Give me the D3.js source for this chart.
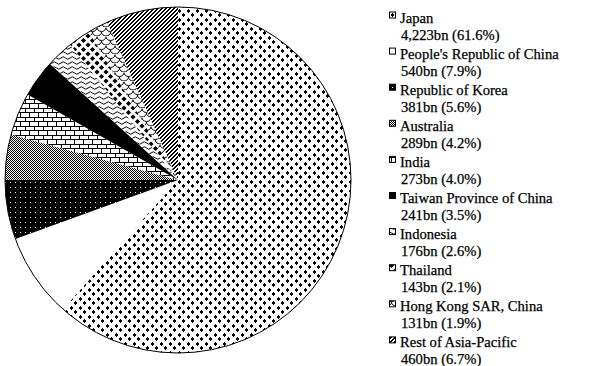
<!DOCTYPE html>
<html><head><meta charset="utf-8">
<script src="https://cdn.jsdelivr.net/npm/d3@7"></script>
<style>html,body{margin:0;padding:0;background:#fff;}svg{display:block;}</style>
</head><body>
<svg id="c" width="595" height="366"></svg>
<script>
const categories = ["Japan","People's Republic of China","Republic of Korea","Australia","India","Taiwan Province of China","Indonesia","Thailand","Hong Kong SAR, China","Rest of Asia-Pacific"];
const valuesBn = [4223,540,381,289,273,241,176,143,131,460];
const valueLabels = ["4,223bn (61.6%)","540bn (7.9%)","381bn (5.6%)","289bn (4.2%)","273bn (4.0%)","241bn (3.5%)","176bn (2.6%)","143bn (2.1%)","131bn (1.9%)","460bn (6.7%)"];
const patternIds = ["pJapan","pChina","pKorea","pAus","pIndia","pTaiwan","pIndo","pThai","pHK","pRest"];

const svg = d3.select("#c");
const defs = svg.append("defs");
function pat(id,w,h){
  return defs.append("pattern").attr("id",id).attr("patternUnits","userSpaceOnUse")
    .attr("width",w).attr("height",h);
}
function rect(p,x,y,w,h,fill){ p.append("rect").attr("x",x).attr("y",y).attr("width",w).attr("height",h).attr("fill",fill).attr("shape-rendering","crispEdges"); }

// Japan: plus signs on white
{ const p = pat("pJapan",9,9); rect(p,0,0,9,9,"#fff");
  const cross = (x,y)=>{ rect(p,x,y+1,3,2,"#000"); rect(p,x+1,y,1,1,"#000"); rect(p,x+1,y+3,1,1,"#000"); };
  cross(0,0); cross(4,4); cross(4,-5);
}
// China: white
{ const p = pat("pChina",4,4); rect(p,0,0,4,4,"#fff"); }
// Korea: black with white dots
{ const p = pat("pKorea",5,5); rect(p,0,0,5,5,"#000"); rect(p,2,2,1,1,"#fff"); }
// Australia: checker
{ const p = pat("pAus",2,2); rect(p,0,0,2,2,"#fff"); rect(p,0,0,1,1,"#000"); rect(p,1,1,1,1,"#000"); }
// India: bricks
{ const p = pat("pIndia",9,9); rect(p,0,0,9,9,"#fff");
  rect(p,0,0,9,1,"#000"); rect(p,0,4,9,1,"#000");
  rect(p,0,0,1,4,"#000"); rect(p,4,4,1,5,"#000"); }
// Taiwan: solid black
{ const p = pat("pTaiwan",4,4); rect(p,0,0,4,4,"#000"); }
// Indonesia: waves
{ const p = pat("pIndo",9,5); rect(p,0,0,9,5,"#fff");
  p.append("path").attr("d","M0,3 Q2.25,0.5 4.5,3 T9,3").attr("fill","none").attr("stroke","#000").attr("stroke-width",1); }
// Thailand: diamonds
{ const p = pat("pThai",9,9); rect(p,0,0,9,9,"#fff");
  const d = (cx,cy,r)=>`M${cx},${cy-r}L${cx+r},${cy}L${cx},${cy+r}L${cx-r},${cy}Z`;
  [[0,0],[9,0],[0,9],[9,9],[4.5,4.5]].forEach(([x,y])=>p.append("path").attr("d",d(x,y,2.6)).attr("fill","#000")); }
// Hong Kong: scales
{ const p = pat("pHK",9,9); rect(p,0,0,9,9,"#fff");
  p.append("path").attr("d","M0,0.5 A4.5,4 0 0 0 9,0.5 M-4.5,5 A4.5,4 0 0 0 4.5,5 M4.5,5 A4.5,4 0 0 0 13.5,5 M0,9.5 A4.5,4 0 0 0 9,9.5")
    .attr("fill","none").attr("stroke","#000").attr("stroke-width",1); }
// Rest: diagonal stripes "/"
{ const p = pat("pRest",4,4); rect(p,0,0,4,4,"#fff");
  for(let y=0;y<4;y++){ rect(p,(3-y+4)%4,y,1,1,"#000"); rect(p,(4-y+4)%4,y,1,1,"#000"); } }

const cx = 178, cy = 180, R = 173;
const data = categories.map((c,i)=>({name:c, v:valuesBn[i], pid:patternIds[i]}));
const pie = d3.pie().sort(null).value(d=>d.v);
const arc = d3.arc().innerRadius(0).outerRadius(R);
const g = svg.append("g").attr("transform",`translate(${cx},${cy})`);
g.selectAll("path.slice").data(pie(data)).join("path").attr("class","slice")
  .attr("d",arc).attr("fill",d=>`url(#${d.data.pid})`).attr("stroke","none");
g.append("circle").attr("r",R).attr("fill","none").attr("stroke","#000").attr("stroke-width",1);

// legend
const lg = svg.append("g");
const y0 = 22.5, step = 36.1;
const font = "'Liberation Serif','Times New Roman',serif";
data.forEach((d,i)=>{
  const by = y0 + i*step;
  lg.append("rect").attr("x",389.5).attr("y",by-10.5).attr("width",6).attr("height",6)
    .attr("fill",`url(#${d.pid})`).attr("stroke","#000").attr("stroke-width",1);
  lg.append("text").attr("x",400).attr("y",by).text(d.name)
    .attr("font-family",font).attr("font-size",14.6).attr("fill","#000")
    .attr("stroke","#000").attr("stroke-width",0.25);
  lg.append("text").attr("x",401).attr("y",by+17).text(valueLabels[i])
    .attr("font-family",font).attr("font-size",14.6).attr("fill","#000")
    .attr("stroke","#000").attr("stroke-width",0.25);
});
</script>
</body></html>
